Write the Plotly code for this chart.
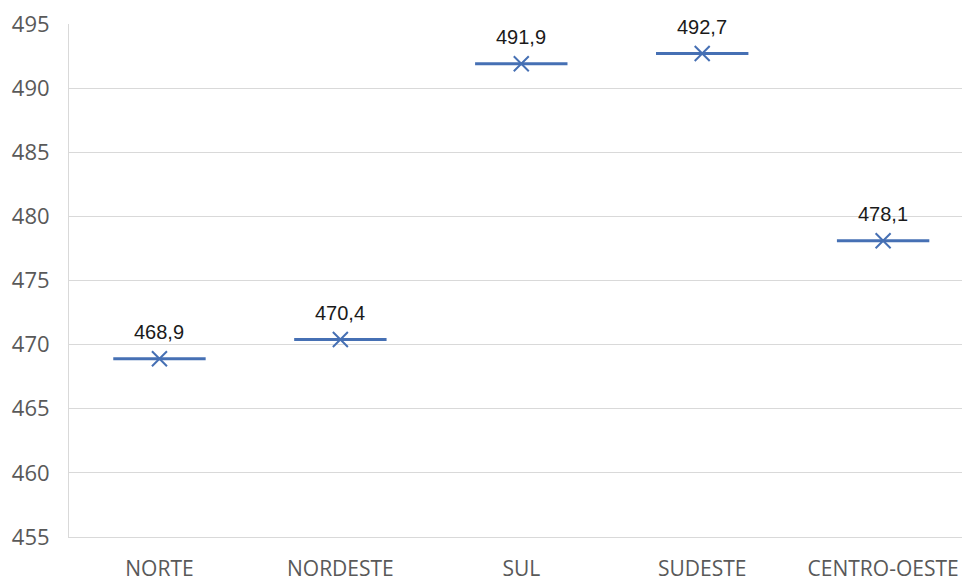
import plotly.graph_objects as go

# Regional averages
regions = ["NORTE", "NORDESTE", "SUL", "SUDESTE", "CENTRO-OESTE"]
averages = [468.9, 470.4, 491.9, 492.7, 478.1]
labels = ["468,9", "470,4", "491,9", "492,7", "478,1"]

y_ticks = [455, 460, 465, 470, 475, 480, 485, 490, 495]

BLUE = "#4670B4"
GRID = "#D9D9D9"

fig = go.Figure()

# Horizontal bar marking each value
fig.add_trace(go.Scatter(
    x=regions, y=averages, mode="markers",
    marker=dict(symbol="line-ew", size=66, line=dict(color=BLUE, width=3)),
    hoverinfo="skip", showlegend=False,
))

# Cross marker at the centre of each bar
fig.add_trace(go.Scatter(
    x=regions, y=averages, mode="markers",
    marker=dict(symbol="x-thin", size=15, line=dict(color=BLUE, width=2)),
    showlegend=False,
))

for r, v, t in zip(regions, averages, labels):
    fig.add_annotation(
        x=r, y=v, text=t, showarrow=False, yshift=27,
        font=dict(family="Liberation Sans, Arial, sans-serif", size=20, color="#1A1A1A"),
    )

fig.update_layout(
    width=962, height=580,
    margin=dict(l=69, r=0, t=24, b=43),
    paper_bgcolor="white", plot_bgcolor="white",
    xaxis=dict(
        type="category", categoryorder="array", categoryarray=regions,
        range=[-0.5, 4.436], automargin=False,
        showgrid=False, zeroline=False, showline=True, linecolor=GRID, linewidth=1,
        ticks="", ticklabelstandoff=13,
        tickfont=dict(family="Open Sans, sans-serif", size=21, color="#595959"),
    ),
    yaxis=dict(
        range=[455, 495], tickvals=y_ticks, automargin=False,
        showgrid=True, gridcolor=GRID, gridwidth=1,
        zeroline=False, showline=True, linecolor=GRID, linewidth=1,
        ticks="", ticklabelstandoff=14,
        tickfont=dict(family="Open Sans, sans-serif", size=22, color="#595959"),
    ),
)

fig.write_html("out.html")
